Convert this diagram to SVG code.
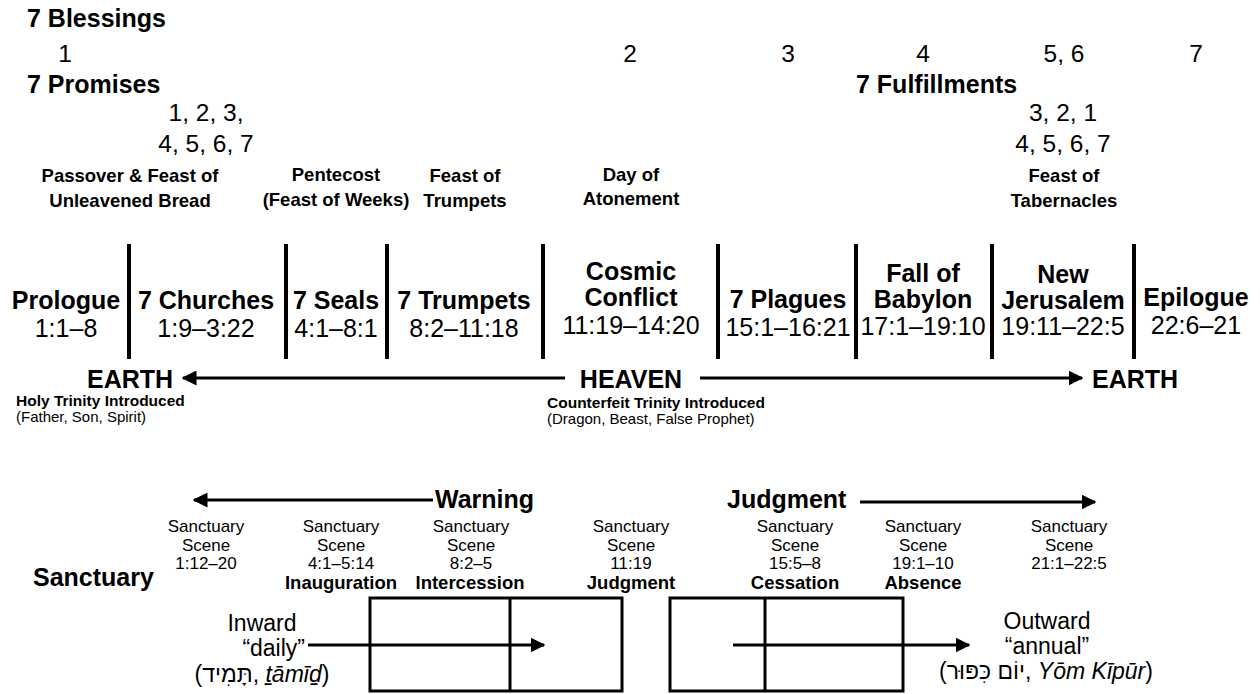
<svg xmlns="http://www.w3.org/2000/svg" width="1260" height="694" viewBox="0 0 1260 694">
<defs>
<style>
text{font-family:"Liberation Sans","DejaVu Sans",Arial,sans-serif;fill:#000}
.h{font-size:25px;font-weight:bold}
.n{font-size:24.5px}
.r{font-size:25px}
.w{font-size:23px}
.f{font-size:18.5px;font-weight:bold;text-anchor:middle}
.c{text-anchor:middle}
.t{font-size:15.5px;font-weight:bold}
.tn{font-size:15px}
.s{font-size:17px;text-anchor:middle}
.sb{font-size:18.5px;font-weight:bold;text-anchor:middle}
.div{stroke:#000;stroke-width:4}
.ln{stroke:#000;stroke-width:3;fill:none}
.box{stroke:#000;stroke-width:3;fill:none}
</style>
<marker id="ah" viewBox="0 0 10 10" refX="9" refY="5" markerWidth="5" markerHeight="5" orient="auto" markerUnits="strokeWidth">
<path d="M0,0 L10,5 L0,10 z" fill="#000"/>
</marker>
</defs>
<rect width="1260" height="694" fill="#fff"/>

<g id="header">
<text class="h" x="27" y="27">7 Blessings</text>
<text class="n c" x="65" y="62">1</text>
<text class="n c" x="630" y="62">2</text>
<text class="n c" x="788" y="62">3</text>
<text class="n c" x="923" y="62">4</text>
<text class="n c" x="1064" y="62">5, 6</text>
<text class="n c" x="1196" y="62">7</text>
<text class="h" x="27" y="93">7 Promises</text>
<text class="n c" x="206" y="121">1, 2, 3,</text>
<text class="n c" x="206" y="152">4, 5, 6, 7</text>
<text class="h" x="856" y="93">7 Fulfillments</text>
<text class="n c" x="1063" y="121">3, 2, 1</text>
<text class="n c" x="1063" y="152">4, 5, 6, 7</text>
</g>

<g id="feasts">
<text class="f" x="130" y="182">Passover &amp; Feast of</text>
<text class="f" x="130" y="207">Unleavened Bread</text>
<text class="f" x="336" y="181">Pentecost</text>
<text class="f" x="336" y="206">(Feast of Weeks)</text>
<text class="f" x="465" y="182">Feast of</text>
<text class="f" x="465" y="207">Trumpets</text>
<text class="f" x="631" y="181">Day of</text>
<text class="f" x="631" y="205">Atonement</text>
<text class="f" x="1064" y="182">Feast of</text>
<text class="f" x="1064" y="207">Tabernacles</text>
</g>

<g id="dividers">
<line class="div" x1="129" y1="244" x2="129" y2="359"/>
<line class="div" x1="286" y1="244" x2="286" y2="359"/>
<line class="div" x1="387" y1="244" x2="387" y2="359"/>
<line class="div" x1="543" y1="244" x2="543" y2="359"/>
<line class="div" x1="718" y1="244" x2="718" y2="359"/>
<line class="div" x1="856" y1="244" x2="856" y2="359"/>
<line class="div" x1="992" y1="244" x2="992" y2="359"/>
<line class="div" x1="1134" y1="244" x2="1134" y2="359"/>
</g>

<g id="prologue"><text class="h c" x="66" y="309">Prologue</text><text class="r c" x="66" y="337">1:1–8</text></g>
<g id="churches"><text class="h c" x="206" y="309">7 Churches</text><text class="r c" x="206" y="337">1:9–3:22</text></g>
<g id="seals"><text class="h c" x="336" y="309">7 Seals</text><text class="r c" x="336" y="337">4:1–8:1</text></g>
<g id="trumpets"><text class="h c" x="464" y="309">7 Trumpets</text><text class="r c" x="464" y="337">8:2–11:18</text></g>
<g id="cosmic"><text class="h c" x="631" y="280">Cosmic</text><text class="h c" x="631" y="306">Conflict</text><text class="r c" x="631" y="334">11:19–14:20</text></g>
<g id="plagues"><text class="h c" x="788" y="308">7 Plagues</text><text class="r c" x="788" y="336">15:1–16:21</text></g>
<g id="babylon"><text class="h c" x="923" y="282">Fall of</text><text class="h c" x="923" y="308">Babylon</text><text class="r c" x="923" y="335">17:1–19:10</text></g>
<g id="jerusalem"><text class="h c" x="1063" y="283">New</text><text class="h c" x="1063" y="309">Jerusalem</text><text class="r c" x="1063" y="335">19:11–22:5</text></g>
<g id="epilogue"><text class="h c" x="1196" y="306">Epilogue</text><text class="r c" x="1196" y="334">22:6–21</text></g>

<g id="earth-left">
<text class="h" x="87" y="388">EARTH</text>
<text class="t" x="16" y="406">Holy Trinity Introduced</text>
<text class="tn" x="16" y="422">(Father, Son, Spirit)</text>
</g>
<g id="heaven">
<text class="h c" x="631" y="388">HEAVEN</text>
<text class="t" x="547" y="408">Counterfeit Trinity Introduced</text>
<text class="tn" x="547" y="424">(Dragon, Beast, False Prophet)</text>
</g>
<g id="earth-right"><text class="h" x="1092" y="388">EARTH</text></g>

<g id="warning"><text class="h" x="435" y="508">Warning</text></g>
<g id="judgment"><text class="h" x="727" y="508">Judgment</text></g>
<g id="sanctuary-label"><text class="h" x="33" y="586">Sanctuary</text></g>

<g id="scene1"><text class="s" x="206" y="532">Sanctuary</text><text class="s" x="206" y="551">Scene</text><text class="s" x="206" y="569">1:12–20</text></g>
<g id="scene2"><text class="s" x="341" y="532">Sanctuary</text><text class="s" x="341" y="551">Scene</text><text class="s" x="341" y="569">4:1–5:14</text><text class="sb" x="341" y="589">Inauguration</text></g>
<g id="scene3"><text class="s" x="471" y="532">Sanctuary</text><text class="s" x="471" y="551">Scene</text><text class="s" x="471" y="569">8:2–5</text><text class="sb" x="470" y="589">Intercession</text></g>
<g id="scene4"><text class="s" x="631" y="532">Sanctuary</text><text class="s" x="631" y="551">Scene</text><text class="s" x="631" y="569">11:19</text><text class="sb" x="631" y="589">Judgment</text></g>
<g id="scene5"><text class="s" x="795" y="532">Sanctuary</text><text class="s" x="795" y="551">Scene</text><text class="s" x="795" y="569">15:5–8</text><text class="sb" x="795" y="589">Cessation</text></g>
<g id="scene6"><text class="s" x="923" y="532">Sanctuary</text><text class="s" x="923" y="551">Scene</text><text class="s" x="923" y="569">19:1–10</text><text class="sb" x="923" y="589">Absence</text></g>
<g id="scene7"><text class="s" x="1069" y="532">Sanctuary</text><text class="s" x="1069" y="551">Scene</text><text class="s" x="1069" y="569">21:1–22:5</text></g>

<g id="sanctuary-daily">
<rect class="box" x="370" y="598" width="252" height="93"/>
<line class="box" x1="510" y1="598" x2="510" y2="691"/>
</g>
<g id="sanctuary-annual">
<rect class="box" x="670" y="598" width="233" height="93"/>
<line class="box" x1="765" y1="598" x2="765" y2="691"/>
</g>

<g id="inward">
<text class="w c" x="262" y="631">Inward</text>
<text class="w" x="305" y="656" text-anchor="end">“daily”</text>
<text class="w c" x="262" y="682">(תָּמִיד, <tspan font-style="italic">ṯāmīḏ</tspan>)</text>
</g>
<g id="outward">
<text class="w c" x="1047" y="629">Outward</text>
<text class="w c" x="1047" y="654">“annual”</text>
<text class="w c" x="1046" y="679">(יוֹם כִּפּוּר, <tspan font-style="italic">Yōm Kīpūr</tspan>)</text>
</g>

<g id="connectors">
<line class="ln" x1="565" y1="378" x2="183" y2="378" marker-end="url(#ah)"/>
<line class="ln" x1="700" y1="378" x2="1082" y2="378" marker-end="url(#ah)"/>
<line class="ln" x1="433" y1="500" x2="194" y2="500" marker-end="url(#ah)"/>
<line class="ln" x1="860" y1="502" x2="1095" y2="502" marker-end="url(#ah)"/>
<line class="ln" x1="308" y1="645" x2="544" y2="645" marker-end="url(#ah)"/>
<line class="ln" x1="733" y1="645" x2="969" y2="645" marker-end="url(#ah)"/>
</g>
</svg>
